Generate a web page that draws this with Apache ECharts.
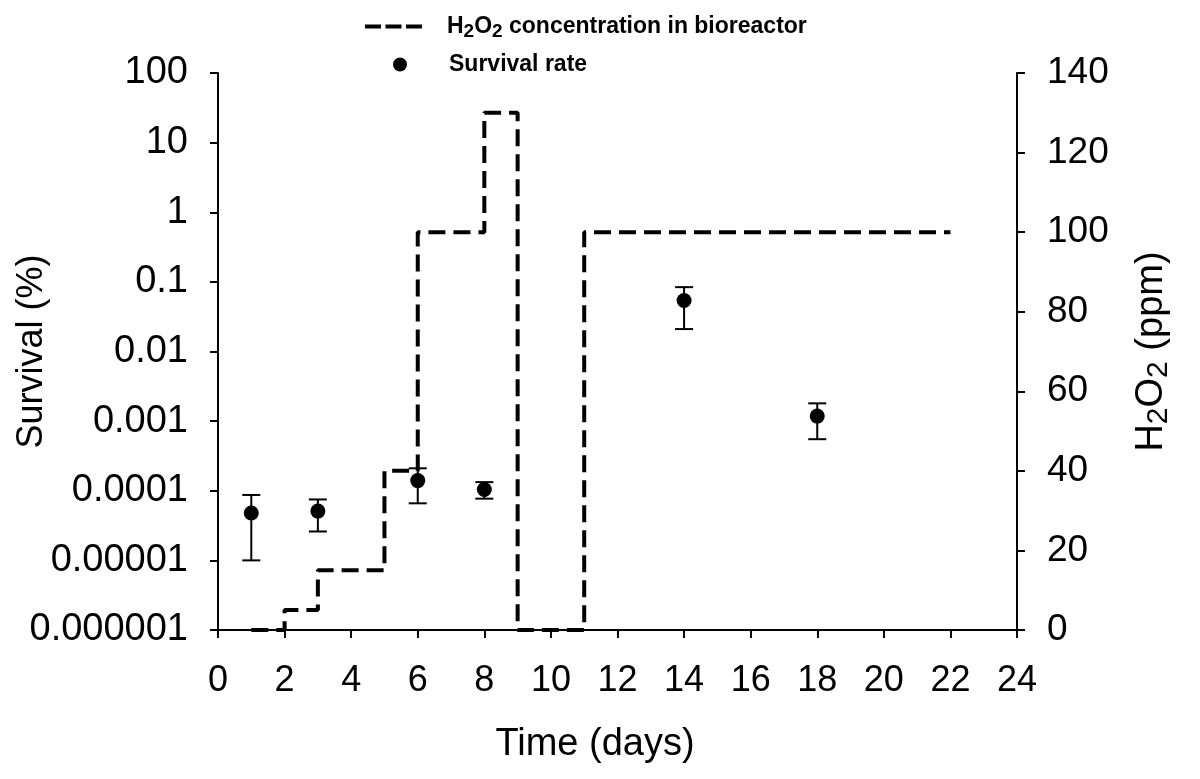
<!DOCTYPE html>
<html>
<head>
<meta charset="utf-8">
<script src="https://cdn.jsdelivr.net/npm/echarts@6/dist/echarts.min.js"></script>
<style>
html,body{margin:0;padding:0;background:#fff;}
#chart{width:1200px;height:779px;}
</style>
</head>
<body>
<div id="chart"></div>
<script>
// H2O2 concentration step profile (ppm), value holds from this day until the next
const h2o2Days = [1, 2, 3, 5, 6, 8, 9, 11, 22];
const h2o2Ppm  = [0, 5, 15, 40, 100, 130, 0, 100, 100];

// Survival rate (%) with error bars
const survDays = [1, 3, 6, 8, 14, 18];
const survMean = [4.8e-5, 5.1e-5, 1.4e-4, 1.04e-4, 0.054, 0.00118];
const survLow  = [1.0e-5, 2.6e-5, 6.6e-5, 7.7e-5, 0.021, 0.00055];
const survHigh = [8.7e-5, 7.5e-5, 2.1e-4, 1.33e-4, 0.084, 0.0018];

// Tick labels
const xTicks = [0, 2, 4, 6, 8, 10, 12, 14, 16, 18, 20, 22, 24];
const leftTickLabels = ['0.000001', '0.00001', '0.0001', '0.001', '0.01', '0.1', '1', '10', '100'];
const rightTicks = [0, 20, 40, 60, 80, 100, 120, 140];

const FONT = 'Liberation Sans, Arial, sans-serif';
const chart = echarts.init(document.getElementById('chart'), null, {renderer: 'canvas'});

const lineData = h2o2Days.map((d, i) => [d, h2o2Ppm[i]]);
const scatterData = survDays.map((d, i) => [d, survMean[i]]);
const errData = survDays.map((d, i) => [d, survLow[i], survHigh[i]]);

// dashed-line legend icon: three dashes
const dashIcon = 'path://M0,0h16v4H0z M20.5,0h16v4h-16z M41,0h16v4H41z';

const option = {
  animation: false,
  backgroundColor: '#fff',
  grid: {left: 218, right: 183, top: 73, bottom: 149, containLabel: false, outerBoundsMode: 'none'},
  legend: [
    {
      data: [{name: 'H2O2 concentration in bioreactor', icon: dashIcon}],
      left: 365, top: 15, padding: 0,
      itemWidth: 57, itemHeight: 4,
      selectedMode: false,
      formatter: () => '{n|H}{s|2}{n|O}{s|2}{n| concentration in bioreactor}',
      textStyle: {
        padding: [0, 0, 0, 20],
        rich: {
          n: {fontFamily: FONT, fontSize: 23, fontWeight: 'bold', color: '#000', lineHeight: 30},
          s: {fontFamily: FONT, fontSize: 19, fontWeight: 'bold', color: '#000', lineHeight: 22, verticalAlign: 'bottom'}
        }
      }
    },
    {
      data: [{name: 'Survival rate', icon: 'circle'}],
      left: 393, top: 53, padding: 0,
      itemWidth: 14, itemHeight: 14,
      selectedMode: false,
      itemStyle: {color: '#000', opacity: 1},
      formatter: () => '{n|Survival rate}',
      textStyle: {
        padding: [0, 0, 0, 37],
        rich: {
          n: {fontFamily: FONT, fontSize: 23, fontWeight: 'bold', color: '#000', lineHeight: 30}
        }
      }
    }
  ],
  xAxis: {
    type: 'value', min: 0, max: 24, interval: 2,
    name: 'Time (days)', nameLocation: 'middle', nameGap: 96, nameMoveOverlap: false,
    nameTextStyle: {fontFamily: FONT, fontSize: 38, color: '#000', padding: [0, 45, 0, 0]},
    axisLine: {show: true, lineStyle: {color: '#000', width: 2}},
    axisTick: {show: true, inside: false, length: 8, lineStyle: {color: '#000', width: 2}},
    axisLabel: {fontFamily: FONT, fontSize: 36, color: '#000', margin: 33,
      formatter: v => xTicks.indexOf(v) >= 0 ? String(v) : ''},
    splitLine: {show: false}
  },
  yAxis: [
    {
      type: 'log', logBase: 10, min: 1e-6, max: 100,
      name: 'Survival (%)', nameLocation: 'middle', nameGap: 168, nameMoveOverlap: false,
      nameTextStyle: {fontFamily: FONT, fontSize: 36, color: '#000'},
      axisLine: {show: true, lineStyle: {color: '#000', width: 2}},
      axisTick: {show: true, inside: false, length: 8, lineStyle: {color: '#000', width: 2}},
      axisLabel: {fontFamily: FONT, fontSize: 38, color: '#000', margin: 30,
        formatter: v => leftTickLabels[Math.round(Math.log10(v)) + 6] || ''},
      splitLine: {show: false},
      minorTick: {show: false}
    },
    {
      type: 'value', min: 0, max: 140, interval: 20, position: 'right',
      name: '{n|H}{s|2}{n|O}{s|2}{n| (ppm)}', nameLocation: 'middle', nameGap: 113, nameMoveOverlap: false,
      nameTextStyle: {
        rich: {
          n: {fontFamily: FONT, fontSize: 38, color: '#000', lineHeight: 44},
          s: {fontFamily: FONT, fontSize: 30, color: '#000', lineHeight: 34, verticalAlign: 'bottom'}
        }
      },
      axisLine: {show: true, lineStyle: {color: '#000', width: 2}},
      axisTick: {show: true, inside: false, length: 8, lineStyle: {color: '#000', width: 2}},
      axisLabel: {fontFamily: FONT, fontSize: 37, color: '#000', margin: 30,
        formatter: v => rightTicks.indexOf(v) >= 0 ? String(v) : ''},
      splitLine: {show: false}
    }
  ],
  series: [
    {
      name: 'H2O2 concentration in bioreactor',
      type: 'line', yAxisIndex: 1, step: 'end',
      data: lineData, symbol: 'none', showSymbol: false,
      color: '#000',
      itemStyle: {color: '#000'},
      lineStyle: {color: '#000', width: 4, type: [17, 8]},
      emphasis: {disabled: true}, z: 2
    },
    {
      name: 'errors', type: 'custom', yAxisIndex: 0,
      data: errData,
      renderItem: function (params, api) {
        const x = api.value(0);
        const lo = api.coord([x, api.value(1)]);
        const hi = api.coord([x, api.value(2)]);
        const hw = 9;
        const st = {stroke: '#000', lineWidth: 2};
        return {type: 'group', children: [
          {type: 'line', shape: {x1: lo[0], y1: lo[1], x2: hi[0], y2: hi[1]}, style: st},
          {type: 'line', shape: {x1: lo[0] - hw, y1: lo[1], x2: lo[0] + hw, y2: lo[1]}, style: st},
          {type: 'line', shape: {x1: hi[0] - hw, y1: hi[1], x2: hi[0] + hw, y2: hi[1]}, style: st}
        ]};
      },
      z: 3, silent: true
    },
    {
      name: 'Survival rate', type: 'scatter', yAxisIndex: 0,
      data: scatterData, symbol: 'circle', symbolSize: 15,
      itemStyle: {color: '#000', opacity: 1}, color: '#000',
      emphasis: {disabled: true}, z: 4
    }
  ]
};
chart.setOption(option);
</script>
</body>
</html>
